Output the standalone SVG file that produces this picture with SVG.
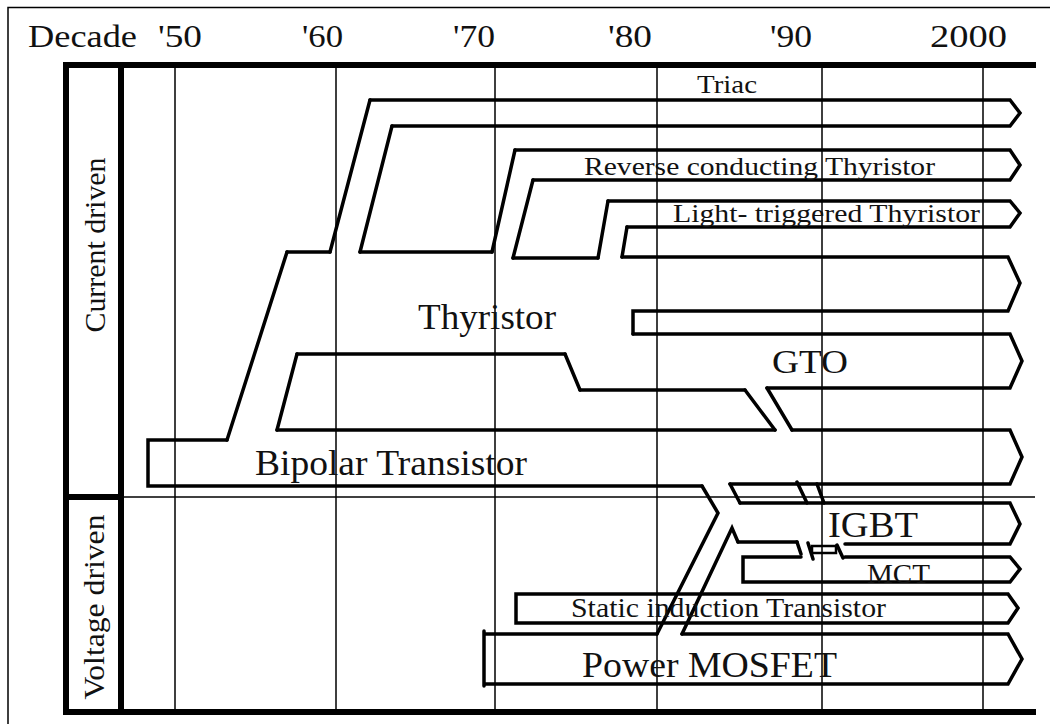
<svg xmlns="http://www.w3.org/2000/svg" width="1050" height="724" viewBox="0 0 1050 724">
<style>
.frame{fill:none;stroke:#000;stroke-width:1.5}
.thick{fill:none;stroke:#000;stroke-width:6;stroke-linecap:square}
.grid{fill:none;stroke:#000;stroke-width:1.5}
.band{fill:none;stroke:#000;stroke-width:3.5;stroke-linejoin:miter;stroke-linecap:round}
.t{font-family:"Liberation Serif","Times New Roman",serif;fill:#111}
</style>
<rect width="1050" height="724" fill="#fff"/>
<g id="frame">
<path class="frame" d="M8,724V7.5H1050"/>
</g>
<g id="axes">
<path class="grid" d="M175,65V712M336,65V712M495,65V712M657,65V712M822,65V712M983,65V712"/>
<path class="grid" d="M121,497H1035"/>
<path class="thick" d="M66,65H1033M66,65V712M121,65V712M66,497H121M66,712H1033"/>
<text class="t" x="28" y="47" font-size="32" textLength="109" lengthAdjust="spacingAndGlyphs">Decade</text>
<text class="t" x="158" y="47" font-size="32" textLength="44" lengthAdjust="spacingAndGlyphs">'50</text>
<text class="t" x="302" y="47" font-size="32" textLength="41" lengthAdjust="spacingAndGlyphs">'60</text>
<text class="t" x="453" y="47" font-size="32" textLength="42" lengthAdjust="spacingAndGlyphs">'70</text>
<text class="t" x="608" y="47" font-size="32" textLength="44" lengthAdjust="spacingAndGlyphs">'80</text>
<text class="t" x="770" y="47" font-size="32" textLength="42" lengthAdjust="spacingAndGlyphs">'90</text>
<text class="t" x="930" y="47" font-size="32" textLength="77" lengthAdjust="spacingAndGlyphs">2000</text>
<text class="t" transform="translate(105,245) rotate(-90)" text-anchor="middle" font-size="29" textLength="175" lengthAdjust="spacingAndGlyphs">Current driven</text>
<text class="t" transform="translate(104,607) rotate(-90)" text-anchor="middle" font-size="29" textLength="185" lengthAdjust="spacingAndGlyphs">Voltage  driven</text>
</g>
<g id="connectors">
<path class="band" d="M227,440L287,252M277,430L297,354M330,252L370,100M392,126L360,252M492,252L515,150M533,180L513,258M598,258L608,201M627,227L622,257M565,354L580,390M745,390L775,430M767,388L792,430M797,482L807,503M817,484L824,503M702,486L718,513L657,634M682,634L732,528L738,542M730,484L740,503M797,542L801,554M808,543L813,559M837,545L843,558"/>
<rect x="812" y="546" width="24" height="7" fill="none" stroke="#000" stroke-width="2.5"/>
</g>
<g id="bipolar">
<path class="band" d="M227,440L148,440L148,486L702,486M792,430L1010,430L1022,457L1010,484L730,484M277,430L775,430"/>
<text class="t" x="255" y="475" font-size="35" textLength="272" lengthAdjust="spacingAndGlyphs">Bipolar Transistor</text>
</g>
<g id="thyristor">
<path class="band" d="M287,252L330,252M622,257L1008,257L1020,283L1008,311L633,311L633,334M297,354L565,354M580,390L745,390"/>
<text class="t" x="418" y="329" font-size="36" textLength="138" lengthAdjust="spacingAndGlyphs">Thyristor</text>
</g>
<g id="triac">
<path class="band" d="M370,100L1010,100L1020,113L1010,126L392,126M360,252L492,252"/>
<text class="t" x="697" y="93" font-size="26" textLength="60" lengthAdjust="spacingAndGlyphs">Triac</text>
</g>
<g id="rct">
<path class="band" d="M515,150L1010,150L1020,165L1010,180L533,180M513,258L598,258"/>
<text class="t" x="584" y="175" font-size="26" textLength="351" lengthAdjust="spacingAndGlyphs">Reverse conducting Thyristor</text>
</g>
<g id="ltt">
<path class="band" d="M608,201L1010,201L1020,213L1010,227L627,227"/>
<text class="t" x="673" y="222" font-size="26" textLength="307" lengthAdjust="spacingAndGlyphs">Light- triggered Thyristor</text>
</g>
<g id="gto">
<path class="band" d="M633,334L1010,334L1022,361L1010,388L767,388"/>
<text class="t" x="772" y="373" font-size="33" textLength="76" lengthAdjust="spacingAndGlyphs">GTO</text>
</g>
<g id="igbt">
<path class="band" d="M740,503L1010,503L1020,524L1010,544L845,544M738,542L797,542"/>
<text class="t" x="828" y="537" font-size="36" textLength="90" lengthAdjust="spacingAndGlyphs">IGBT</text>
</g>
<g id="mct">
<path class="band" d="M801,557L743,557L743,582L1010,582L1020,569L1010,557L845,557"/>
<text class="t" x="867" y="583" font-size="28" textLength="63" lengthAdjust="spacingAndGlyphs">MCT</text>
</g>
<g id="sit">
<path class="band" d="M516,594L1008,594L1018,608L1008,623L516,623Z"/>
<text class="t" x="571" y="617" font-size="27" textLength="315" lengthAdjust="spacingAndGlyphs">Static induction Transistor</text>
</g>
<g id="mosfet">
<path class="band" d="M484,631L484,686M484,634L657,634M682,634L1008,634L1022,659L1008,684L484,684"/>
<text class="t" x="582" y="677" font-size="36" textLength="255" lengthAdjust="spacingAndGlyphs">Power MOSFET</text>
</g>
</svg>
